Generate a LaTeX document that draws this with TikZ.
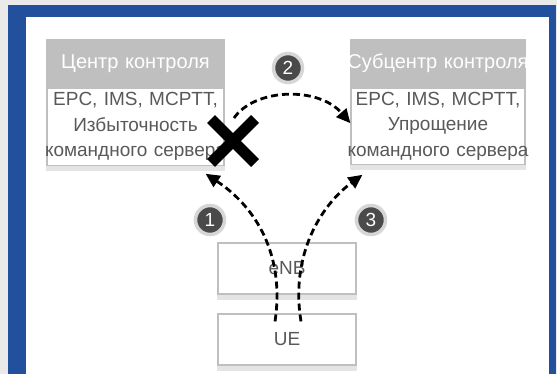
\documentclass[tikz,border=0pt]{standalone}
\usepackage{fontspec}
\setmainfont{Liberation Sans}
\usetikzlibrary{arrows.meta,positioning,calc}
\definecolor{framex}{HTML}{22509C}
\definecolor{pagex}{HTML}{EAEAEA}
\definecolor{hdrx}{HTML}{BFBFBF}
\definecolor{inkx}{HTML}{595959}
\definecolor{shadex}{HTML}{E4E4E4}
\definecolor{ballx}{HTML}{4A4A4A}
% one centred line that may run past the box edge
\newcommand{\rowc}[1]{\makebox[0pt]{#1}}
\tikzset{
  ar/.style={-{Triangle[length=14pt,width=13pt]},line width=2.8pt,dash pattern=on 7pt off 4pt},
  hdr/.style={draw=hdrx,line width=1.2pt,fill=hdrx,text=white,text width=177pt,align=center,minimum height=47pt,inner sep=0pt,font=\fontsize{20}{24}\selectfont},
  body/.style={draw=hdrx,line width=1.2pt,fill=white,text=inkx,text width=177pt,minimum height=77pt,inner sep=0pt,align=center,font=\fontsize{19}{25.5}\selectfont},
  unit/.style={draw=hdrx,line width=1.2pt,fill=white,text=inkx,minimum width=138pt,minimum height=51pt,font=\fontsize{19}{22}\selectfont},
  num/.style={circle,fill=ballx,draw=black!16,line width=3.5pt,minimum size=29pt,inner sep=0pt,text=white,font=\fontsize{19}{20}\selectfont}
}
\begin{document}
\begin{tikzpicture}[x=1pt,y=-1pt]
% page, blue frame and white sheet
\fill[pagex] (0,0) rectangle (557,374);
\fill[framex] (8,5) rectangle (556,374);
\fill[white] (26,17) rectangle (549,374);

% control centre and sub-centre
\node[hdr] (cc-hdr) at (135.5,63.5) {Центр контроля};
\node[body,below=0pt of cc-hdr] (cc-body) {\rowc{EPC, IMS, MCPTT,}\\\rowc{Избыточность}\\\rowc{командного сервера}};
\node[hdr,text width=174pt] (sc-hdr) at (438,63.5) {\rowc{Субцентр контроля}};
\node[body,text width=174pt,minimum height=76pt,below=0pt of sc-hdr] (sc-body) {\rowc{EPC, IMS, MCPTT,}\\\rowc{Упрощение}\\\rowc{командного сервера}};

% radio side
\node[unit] (enb) at (287,268.5) {eNB};
\node[unit] (ue) at (287,339.5) {UE};

\foreach \b in {cc-body,sc-body,enb,ue}
  \fill[shadex] ([yshift=-0.6pt]\b.south west) rectangle ([yshift=-5.5pt]\b.south east);

\node[num] (n1) at (210,220) {1};
\node[num] (n2) at (288,68) {2};
\node[num] (n3) at (371,220) {3};

% paths: 1 to the centre, 2 failover, 3 to the sub-centre
\coordinate (fail) at (233,141);
\draw[ar] ($(ue.north)+(-12,8)$) .. controls +(10,-67) and +(50,33) .. ($(cc-body.south east)+(-19,8)$);
\draw[ar] ($(fail)+(1,-23)$) .. controls +(21,-30) and +(-32,-37) .. ([yshift=3pt]sc-body.west);
\draw[ar] ($(ue.north)+(14,8)$) .. controls +(-11,-67) and +(-41,30) .. ($(sc-body.south west)+(12,10)$);

% the cross over the lost centre
\draw[line width=11pt] ($(fail)+(-22,-22)$) -- ($(fail)+(22,22)$)
  ($(fail)+(22,-22)$) -- ($(fail)+(-22,22)$);
\end{tikzpicture}
\end{document}
